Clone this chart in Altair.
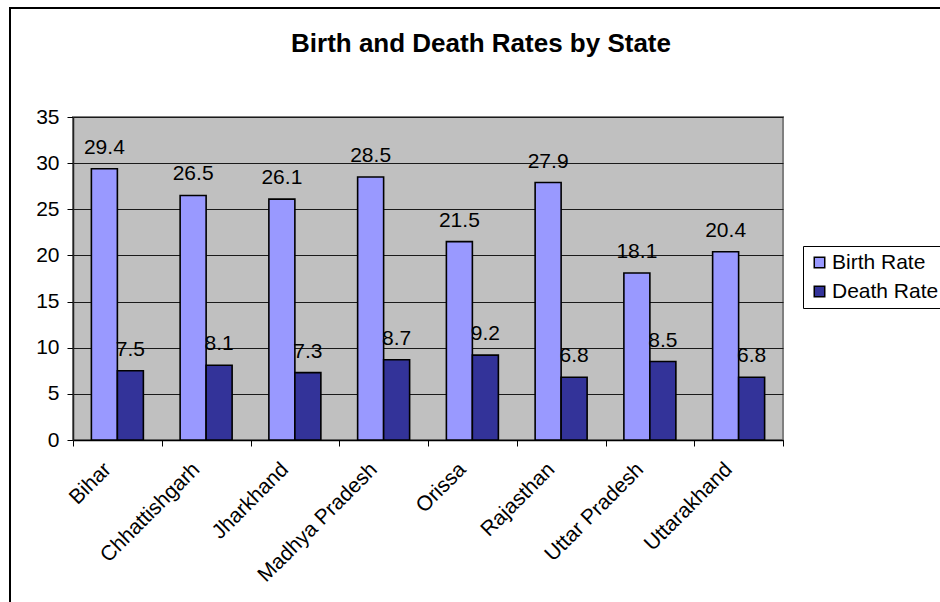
import altair as alt
import pandas as pd

# Vital statistics per state (per 1000 population)
states = ["Bihar", "Chhattishgarh", "Jharkhand", "Madhya Pradesh",
          "Orissa", "Rajasthan", "Uttar Pradesh", "Uttarakhand"]
birth_rate = [29.4, 26.5, 26.1, 28.5, 21.5, 27.9, 18.1, 20.4]
death_rate = [7.5, 8.1, 7.3, 8.7, 9.2, 6.8, 8.5, 6.8]
series = ["Birth Rate", "Death Rate"]
colors = ["#9999FF", "#333399"]
y_ticks = [0, 5, 10, 15, 20, 25, 30, 35]
chart_title = "Birth and Death Rates by State"

rows = []
for i, s in enumerate(states):
    rows.append({"state": s, "series": series[0], "value": birth_rate[i]})
    rows.append({"state": s, "series": series[1], "value": death_rate[i]})
df = pd.DataFrame(rows)

FONT = "Liberation Sans"
FS = 21
PLOT_W, PLOT_H = 710, 323

x_enc = alt.X(
    "state:N", sort=states, title=None,
    scale=alt.Scale(paddingInner=0, paddingOuter=0),
    axis=alt.Axis(labelAngle=-45, labelFontSize=FS, labelFont=FONT,
                  labelColor="black", labelAlign="right", labelBaseline="middle",
                  labelOffset=-10, labelPadding=20,
                  tickBand="extent", tickSize=6, tickColor="black",
                  domainColor="black", domainWidth=1.5, grid=False),
)
xoff_enc = alt.XOffset("series:N", sort=series,
                       scale=alt.Scale(paddingInner=0, paddingOuter=0.707))
y_enc = alt.Y(
    "value:Q", title=None,
    scale=alt.Scale(domain=[0, 35], nice=False),
    axis=alt.Axis(values=y_ticks, labelFontSize=FS, labelFont=FONT,
                  labelColor="black", tickSize=6, tickColor="black",
                  domainColor="#222222", domainWidth=1.5, labelPadding=8,
                  grid=True, gridColor="#1a1a1a", gridWidth=1),
)

base = alt.Chart(df)

bars = base.mark_bar(stroke="black", strokeWidth=1.6).encode(
    x=x_enc,
    xOffset=xoff_enc,
    y=y_enc,
    color=alt.Color(
        "series:N", sort=series,
        scale=alt.Scale(domain=series, range=colors),
        legend=alt.Legend(
            title=None, orient="none", legendX=730, legendY=129,
            strokeColor="black", fillColor="white", padding=6,
            symbolType="square", symbolSize=110,
            symbolStrokeColor="black", symbolStrokeWidth=1.5,
            labelFontSize=FS, labelFont=FONT, labelColor="black",
            rowPadding=7, labelOffset=2,
        ),
    ),
)

value_labels = base.mark_text(
    baseline="alphabetic", dy=-15, fontSize=FS, font=FONT, color="black"
).encode(
    x=alt.X("state:N", sort=states),
    xOffset=alt.XOffset("series:N", sort=series),
    y=alt.Y("value:Q"),
    text=alt.Text("value:Q", format=".1f"),
)

# Chart heading, centred over the whole chart frame
heading = alt.Chart(pd.DataFrame({"t": [chart_title]})).mark_text(
    fontSize=26, fontWeight="bold", font=FONT, color="black",
    align="center", baseline="alphabetic",
).encode(text="t:N", x=alt.value(408), y=alt.value(-65))

# Outer border around the chart
frame = alt.Chart(pd.DataFrame({"k": [0]})).mark_rect(
    fillOpacity=0, stroke="black", strokeWidth=2
).encode(x=alt.value(-63), x2=alt.value(880), y=alt.value(-109), y2=alt.value(500))

chart = alt.layer(bars, value_labels, heading, frame).properties(
    width=PLOT_W, height=PLOT_H,
    autosize=alt.AutoSizeParams(type="none"),
    padding={"left": 73, "top": 117, "right": 157, "bottom": 162},
    background="white",
).configure_view(
    fill="#C0C0C0", stroke="#808080", strokeWidth=2
)

chart.save("out.html", embed_options={"renderer": "svg", "actions": False})
